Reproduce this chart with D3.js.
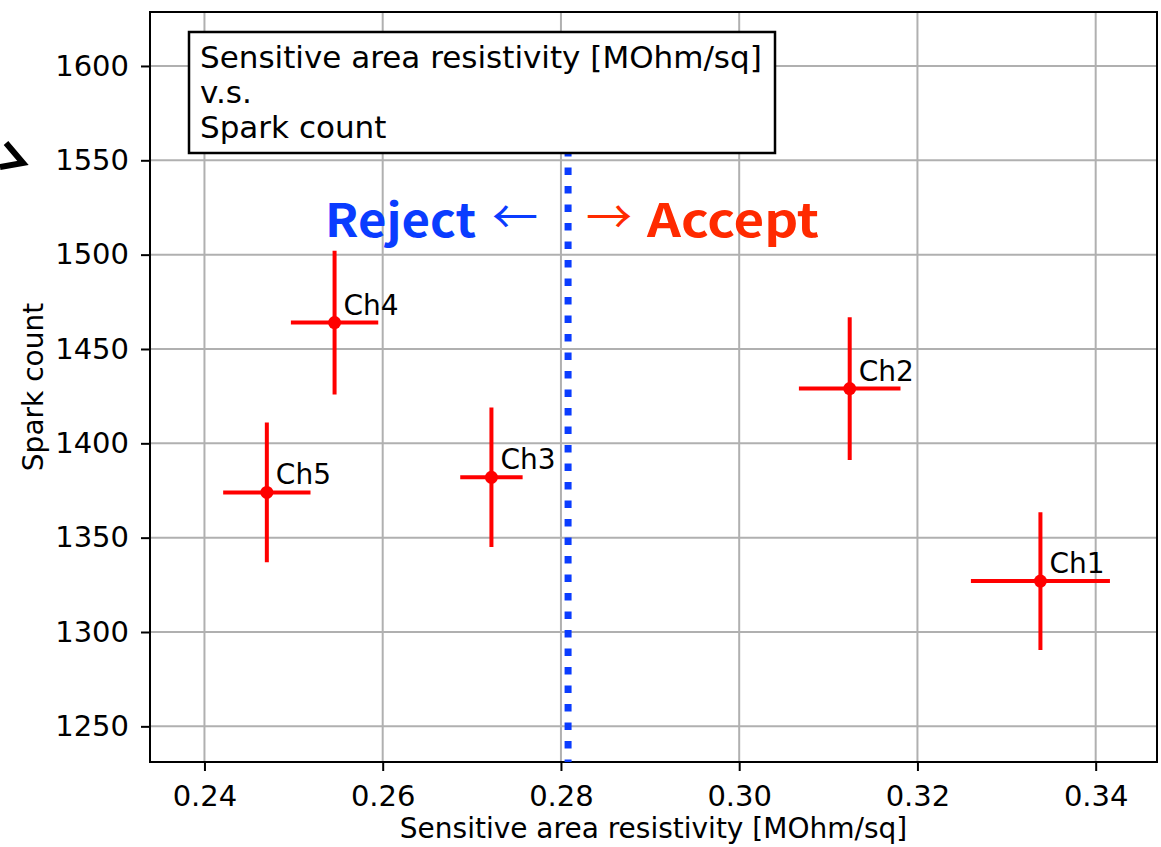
<!DOCTYPE html>
<html>
<head>
<meta charset="utf-8">
<script src="https://cdn.jsdelivr.net/npm/d3@7"></script>
<style>
  body { margin: 0; background: #fff; }
  svg { display: block; }
  text { font-family: "DejaVu Sans", sans-serif; }
</style>
</head>
<body>
<div id="chart"></div>
<script>
// channel data
var channels = ["Ch1", "Ch2", "Ch3", "Ch4", "Ch5"];
var resistivity = [0.3338, 0.3124, 0.2722, 0.2546, 0.2470];
var resistivityErr = [0.0078, 0.0057, 0.0035, 0.0049, 0.0049];
var sparkCount = [1327, 1429, 1382, 1464, 1374];
var sparkErr = [36.5, 37.8, 37.0, 38.1, 37.0];

// acceptance cut
var threshold = 0.2808;
var thresholdTop = 1556;

// ticks
var xTicks = [0.24, 0.26, 0.28, 0.30, 0.32, 0.34];
var yTicks = [1250, 1300, 1350, 1400, 1450, 1500, 1550, 1600];

var boxLines = ["Sensitive area resistivity [MOhm/sq]", "v.s.", "Spark count"];

var W = 1161, H = 847;
var margin = {top: 12, right: 4, bottom: 85, left: 150},
    width = W - margin.left - margin.right,
    height = H - margin.top - margin.bottom;

var svg = d3.select("#chart").append("svg")
    .attr("width", W)
    .attr("height", H);

var plot = svg.append("g")
    .attr("transform", "translate(" + margin.left + "," + margin.top + ")");

var x = d3.scaleLinear().domain([0.23389, 0.34688]).range([0, width]);
var y = d3.scaleLinear().domain([1231.1, 1628.6]).range([height, 0]);

// grid
plot.append("g").selectAll("line")
    .data(xTicks)
  .enter().append("line")
    .attr("x1", function(d) { return x(d); })
    .attr("x2", function(d) { return x(d); })
    .attr("y1", 0).attr("y2", height)
    .attr("stroke", "#b0b0b0").attr("stroke-width", 2);

plot.append("g").selectAll("line")
    .data(yTicks)
  .enter().append("line")
    .attr("y1", function(d) { return y(d); })
    .attr("y2", function(d) { return y(d); })
    .attr("x1", 0).attr("x2", width)
    .attr("stroke", "#b0b0b0").attr("stroke-width", 2);

// axes
var xAxis = d3.axisBottom(x).tickValues(xTicks).tickFormat(d3.format(".2f"))
    .tickSize(9).tickPadding(14);
var yAxis = d3.axisLeft(y).tickValues(yTicks).tickFormat(d3.format("d"))
    .tickSize(9).tickPadding(12);

var gx = plot.append("g")
    .attr("transform", "translate(0," + height + ")")
    .call(xAxis);
var gy = plot.append("g").call(yAxis);

[gx, gy].forEach(function(g) {
  g.select(".domain").remove();
  g.selectAll(".tick line").attr("stroke", "#000").attr("stroke-width", 2);
  g.selectAll(".tick text")
    .attr("fill", "#000")
    .style("font-family", "DejaVu Sans")
    .style("font-size", "29px");
});

// frame
plot.append("rect")
    .attr("width", width).attr("height", height)
    .attr("fill", "none").attr("stroke", "#000").attr("stroke-width", 2);

// threshold line
plot.append("line")
    .attr("x1", x(threshold)).attr("x2", x(threshold))
    .attr("y1", y(thresholdTop)).attr("y2", height)
    .attr("stroke", "#0a3cff").attr("stroke-width", 7)
    .attr("stroke-dasharray", "7.5,11");

// error bars
var pts = channels.map(function(c, i) {
  return {name: c, x: resistivity[i], xe: resistivityErr[i], y: sparkCount[i], ye: sparkErr[i]};
});

var pg = plot.selectAll(".pt")
    .data(pts)
  .enter().append("g").attr("class", "pt");

pg.append("line")
    .attr("x1", function(d) { return x(d.x - d.xe); })
    .attr("x2", function(d) { return x(d.x + d.xe); })
    .attr("y1", function(d) { return y(d.y); })
    .attr("y2", function(d) { return y(d.y); })
    .attr("stroke", "#ff0000").attr("stroke-width", 4);

pg.append("line")
    .attr("x1", function(d) { return x(d.x); })
    .attr("x2", function(d) { return x(d.x); })
    .attr("y1", function(d) { return y(d.y - d.ye); })
    .attr("y2", function(d) { return y(d.y + d.ye); })
    .attr("stroke", "#ff0000").attr("stroke-width", 4);

pg.append("circle")
    .attr("cx", function(d) { return x(d.x); })
    .attr("cy", function(d) { return y(d.y); })
    .attr("r", 6.5)
    .attr("fill", "#ff0000");

pg.append("text")
    .attr("x", function(d) { return x(d.x) + 9; })
    .attr("y", function(d) { return y(d.y) - 8; })
    .style("font-size", "28px")
    .text(function(d) { return d.name; });

// text box
var box = plot.append("g").attr("transform", "translate(39,20)");
box.append("rect")
    .attr("width", 586).attr("height", 121)
    .attr("fill", "#fff").attr("stroke", "#000").attr("stroke-width", 2.5);
box.selectAll("text")
    .data(boxLines)
  .enter().append("text")
    .attr("x", 11)
    .attr("y", function(d, i) { return 36 + i * 35; })
    .style("font-size", "31px")
    .text(function(d) { return d; });

// Reject / Accept annotation
var tx = x(threshold), ty = 237 - margin.top;
plot.append("text")
    .attr("x", tx - 243).attr("y", ty)
    .attr("textLength", 151)
    .attr("lengthAdjust", "spacingAndGlyphs")
    .attr("fill", "#0a3cff")
    .style("font-family", "Noto Sans CJK JP")
    .style("font-weight", "bold")
    .style("font-size", "46px")
    .text("Reject");
plot.append("text")
    .attr("x", tx - 53).attr("y", ty - 4)
    .attr("text-anchor", "middle")
    .attr("fill", "#0a3cff")
    .style("font-family", "Noto Sans CJK JP")
    .style("font-size", "46px")
    .text("←");
plot.append("text")
    .attr("x", tx + 41).attr("y", ty - 4)
    .attr("text-anchor", "middle")
    .attr("fill", "#ff2a00")
    .style("font-family", "Noto Sans CJK JP")
    .style("font-size", "46px")
    .text("→");
plot.append("text")
    .attr("x", tx + 79).attr("y", ty)
    .attr("textLength", 172)
    .attr("lengthAdjust", "spacingAndGlyphs")
    .attr("fill", "#ff2a00")
    .style("font-family", "Noto Sans CJK JP")
    .style("font-weight", "bold")
    .style("font-size", "46px")
    .text("Accept");

// axis labels
svg.append("text")
    .attr("x", margin.left + width / 2)
    .attr("y", 838)
    .attr("text-anchor", "middle")
    .style("font-size", "28px")
    .text("Sensitive area resistivity [MOhm/sq]");

svg.append("text")
    .attr("transform", "translate(43,387) rotate(-90)")
    .attr("text-anchor", "middle")
    .style("font-size", "28px")
    .text("Spark count");

// stray arrow head cut at the left edge
svg.append("path")
    .attr("d", "M6,143 L23,163 L0,167")
    .attr("fill", "none").attr("stroke", "#000").attr("stroke-width", 6)
    .attr("stroke-linejoin", "miter");
</script>
</body>
</html>
